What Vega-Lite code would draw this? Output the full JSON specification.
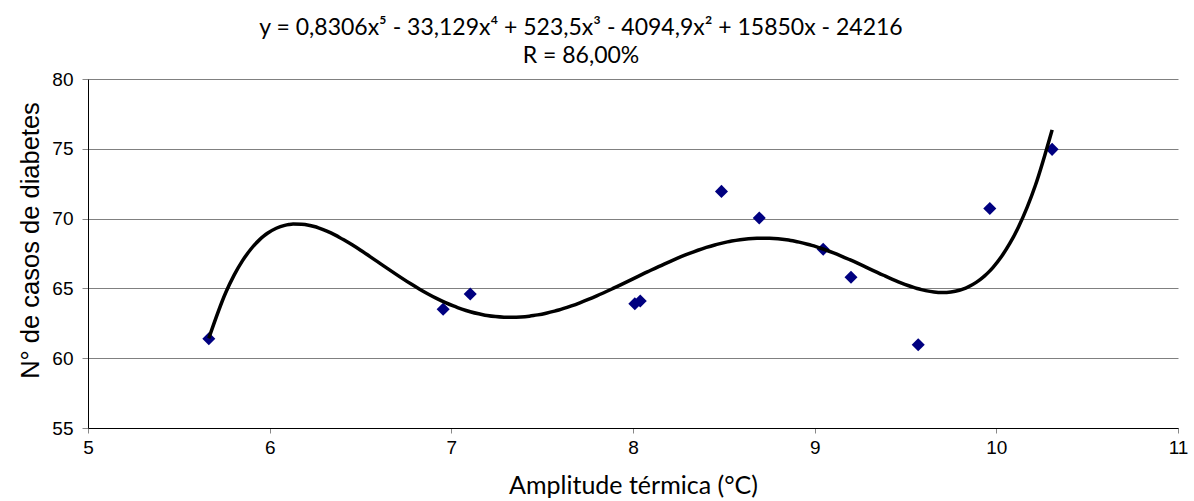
{
  "$schema": "https://vega.github.io/schema/vega-lite/v6.json",
  "width": 1090,
  "height": 349,
  "autosize": {"type": "none"},
  "padding": {"left": 88, "top": 79, "right": 16, "bottom": 73},
  "background": "white",
  "title": {
    "text": ["y = 0,8306x⁵ - 33,129x⁴ + 523,5x³ - 4094,9x² + 15850x - 24216", "R = 86,00%"],
    "font": "Lato",
    "fontSize": 23,
    "fontWeight": "normal",
    "color": "black",
    "lineHeight": 28,
    "dx": -52,
    "offset": 2,
    "anchor": "middle"
  },
  "data": {
    "values": [
      {"x": 5.665, "y": 61.4},
      {"x": 6.955, "y": 63.5},
      {"x": 7.104, "y": 64.6},
      {"x": 8.01, "y": 63.9},
      {"x": 8.04, "y": 64.1},
      {"x": 8.487, "y": 71.95},
      {"x": 8.695, "y": 70.05},
      {"x": 9.047, "y": 67.8},
      {"x": 9.2, "y": 65.8},
      {"x": 9.57, "y": 60.96},
      {"x": 9.964, "y": 70.72},
      {"x": 10.307, "y": 74.96}
    ]
  },
  "layer": [
    {
      "mark": {"type": "point", "shape": "diamond", "filled": true, "size": 170, "color": "#000080", "opacity": 1},
      "encoding": {
        "x": {
          "field": "x", "type": "quantitative",
          "scale": {"domain": [5, 11], "nice": false, "zero": false},
          "axis": {
            "title": "Amplitude térmica (°C)",
            "values": [5, 6, 7, 8, 9, 10, 11],
            "format": "d",
            "grid": false,
            "labelFlush": false,
            "domainColor": "black",
            "tickColor": "#888888",
            "tickSize": 5,
            "labelFont": "Liberation Sans",
            "labelFontSize": 19,
            "labelColor": "black",
            "labelPadding": 5,
            "titleFont": "Lato",
            "titleFontSize": 25,
            "titleFontWeight": "normal",
            "titleColor": "black",
            "titlePadding": 16
          }
        },
        "y": {
          "field": "y", "type": "quantitative",
          "scale": {"domain": [55, 80], "nice": false, "zero": false},
          "axis": {
            "title": "N° de casos de diabetes",
            "values": [55, 60, 65, 70, 75, 80],
            "grid": true,
            "gridColor": "#808080",
            "gridWidth": 1,
            "domainColor": "black",
            "tickColor": "#888888",
            "tickSize": 6,
            "labelFont": "Liberation Sans",
            "labelFontSize": 19,
            "labelColor": "black",
            "labelPadding": 9,
            "titleFont": "Liberation Sans",
            "titleFontSize": 25.5,
            "titleFontWeight": "normal",
            "titleColor": "black",
            "titlePadding": 8,
            "titleY": 161
          }
        }
      }
    },
    {
      "transform": [{"regression": "y", "on": "x", "method": "poly", "order": 5}],
      "mark": {"type": "line", "color": "black", "strokeWidth": 3.5, "interpolate": "monotone"},
      "encoding": {
        "x": {"field": "x", "type": "quantitative"},
        "y": {"field": "y", "type": "quantitative"}
      }
    }
  ],
  "config": {"view": {"stroke": null}}
}
